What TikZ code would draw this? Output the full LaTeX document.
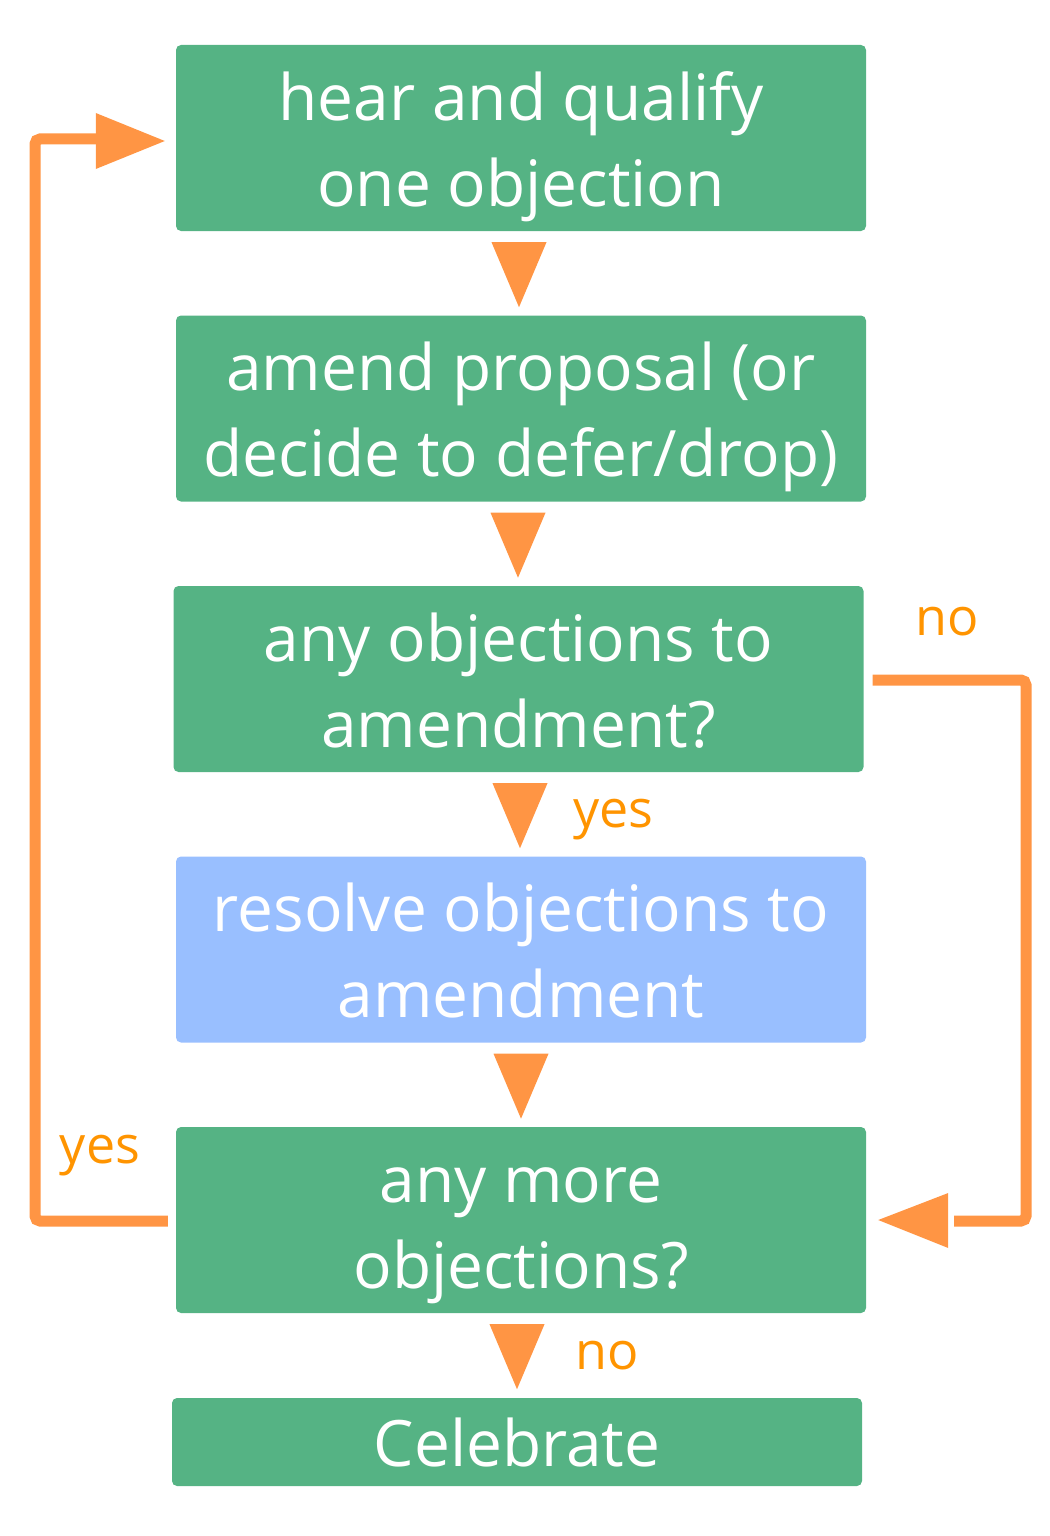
\documentclass[tikz,border=0pt]{standalone}
\usepackage{fontspec}
\setmainfont{Open Sans}
\usetikzlibrary{calc}
\definecolor{boxgreen}{HTML}{55B384}
\definecolor{boxblue}{HTML}{99BFFF}
\definecolor{arrorange}{HTML}{FF9544}
\definecolor{lblorange}{HTML}{FF9400}
\newcommand\firststrut{\rule{0pt}{75pt}}
\newcommand\laststrut{\rule[-25pt]{0pt}{25pt}}
\tikzset{
  box/.style={fill=boxgreen, rounded corners=5pt, text=white, align=center,
    font=\fontsize{64}{86}\selectfont, inner sep=0pt,
    minimum width=690pt, minimum height=186pt},
  loopline/.style={draw=arrorange, line width=11pt, rounded corners=5pt},
  tri/.style={fill=arrorange},
  lbl/.style={text=lblorange, font=\fontsize{52}{60}\selectfont, inner sep=0pt, anchor=base}
}
\begin{document}
\begin{tikzpicture}[x=1pt,y=-1pt]
\useasboundingbox (0,0) rectangle (1049,1536);
\node[box] (b1) at (521,138) {\firststrut hear and qualify\\one objection\laststrut};
\node[box, minimum height=185pt] (b2) at (521,408.5) {\firststrut amend proposal (or\\decide to defer/drop)\laststrut};
\node[box] (b3) at (518.5,679) {\firststrut any objections to\\amendment?\laststrut};
\node[box, fill=boxblue, minimum height=185pt] (b4) at (521,949.5) {\firststrut resolve objections to\\amendment\laststrut};
\node[box] (b5) at (521,1220) {\firststrut any more\\objections?\laststrut};
\node[box, minimum height=88pt] (b6) at (517,1442) {Celebrate};
% down arrows
\foreach \a/\dx in {b1/-2,b2/-3,b3/1.5,b4/0,b5/-4}{
  \fill[tri] ($(\a.south)+(\dx-27.5,11)$) -- ($(\a.south)+(\dx+27.5,11)$) -- ($(\a.south)+(\dx,76)$) -- cycle;
}
% left loop
\coordinate (l0) at ($(b5.west)+(-8,1)$);
\coordinate (l1) at ($(b1.west)+(-80,1)$);
\draw[loopline] (l0) -- (35,1221) -- (35,139) -- (l1);
\fill[tri] ($(b1.west)+(-80,-25)$) -- ($(b1.west)+(-80,31)$) -- ($(b1.west)+(-11,3)$) -- cycle;
% right loop
\coordinate (r0) at ($(b3.east)+(9,1)$);
\coordinate (r1) at ($(b5.east)+(88,1)$);
\draw[loopline] (r0) -- (1026,680) -- (1026,1221) -- (r1);
\fill[tri] ($(b5.east)+(82,-27)$) -- ($(b5.east)+(82,28)$) -- ($(b5.east)+(12,0)$) -- cycle;
% labels
\node[lbl] (n1) at (947,635) {no};
\node[lbl] (y1) at (613.5,827) {yes};
\node[lbl] (y2) at (100,1163) {yes};
\node[lbl] (n2) at (607,1369) {no};
\end{tikzpicture}
\end{document}
